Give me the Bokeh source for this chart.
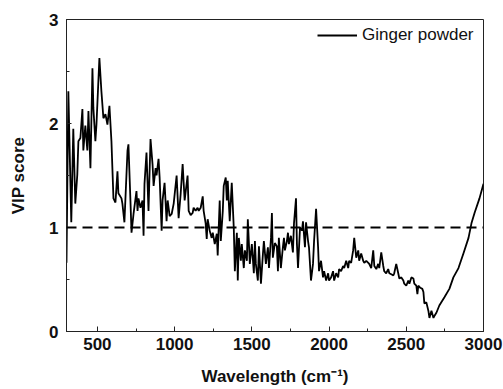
from bokeh.plotting import figure
from bokeh.models import SingleIntervalTicker, Span, Range1d, Legend, LegendItem
from bokeh.embed import file_html
from bokeh.resources import INLINE

wavenumber = [300, 312, 331, 344, 357, 370, 377, 390, 403, 409, 422, 435, 442, 455, 468, 474, 487, 494,
              513, 526, 539, 552, 565, 578, 591, 604, 617, 630, 636, 656, 662, 675, 695, 701, 714, 721,
              734, 753, 760, 766, 779, 792, 799, 805, 818, 831, 844, 857, 864, 877, 883, 896, 903, 916,
              922, 935, 948, 955, 968, 981, 994, 1013, 1026, 1039, 1052, 1065, 1084, 1091, 1104, 1117,
              1123, 1136, 1149, 1156, 1169, 1182, 1188, 1201, 1208, 1214, 1227, 1240, 1247, 1260, 1273,
              1279, 1292, 1299, 1312, 1318, 1331, 1338, 1344, 1357, 1370, 1383, 1390, 1403, 1409, 1416,
              1429, 1435, 1448, 1455, 1468, 1474, 1487, 1500, 1513, 1520, 1526, 1539, 1546, 1559, 1572,
              1578, 1591, 1604, 1611, 1624, 1630, 1636, 1649, 1662, 1669, 1675, 1688, 1701, 1708, 1714,
              1727, 1734, 1740, 1753, 1766, 1773, 1786, 1792, 1799, 1812, 1825, 1831, 1844, 1851, 1864,
              1870, 1883, 1896, 1903, 1916, 1929, 1935, 1948, 1961, 1968, 1981, 1994, 2000, 2013, 2026,
              2033, 2046, 2059, 2065, 2078, 2091, 2098, 2111, 2124, 2130, 2143, 2156, 2163, 2176, 2189,
              2195, 2208, 2221, 2228, 2241, 2254, 2260, 2273, 2286, 2293, 2306, 2318, 2325, 2338, 2351,
              2357, 2370, 2383, 2390, 2403, 2416, 2422, 2435, 2448, 2455, 2468, 2481, 2487, 2500, 2513,
              2520, 2533, 2546, 2552, 2565, 2572, 2578, 2591, 2604, 2611, 2617, 2630, 2643, 2650, 2663,
              2676, 2682, 2695, 2714, 2747, 2779, 2805, 2838, 2870, 2903, 2922, 2942, 2974, 3000]

vip_score = [0.66, 2.31, 1.05, 1.95, 1.23, 1.51, 1.83, 1.86, 2.14, 1.74, 1.98, 1.74, 2.12, 1.57, 2.53, 2.15, 1.83, 1.99,
             2.63, 2.31, 2.05, 2.09, 1.99, 2.17, 1.83, 1.28, 1.24, 1.54, 1.33, 1.28, 1.23, 1.05, 1.74, 1.80, 1.26, 0.95,
             1.13, 1.35, 1.16, 1.28, 1.19, 1.26, 0.92, 1.42, 1.72, 1.16, 1.85, 1.61, 1.40, 1.57, 1.50, 1.66, 1.48, 0.97,
             1.26, 1.43, 1.06, 1.26, 1.11, 1.13, 1.23, 1.50, 1.09, 1.32, 1.61, 1.26, 1.50, 1.16, 1.12, 1.14,
             1.19, 1.16, 1.19, 1.16, 1.19, 1.30, 1.16, 1.04, 0.89, 1.08, 0.97, 0.90, 0.95, 0.84, 0.94,
             0.73, 1.26, 0.87, 1.16, 1.40, 1.48, 1.26, 1.45, 1.06, 1.43, 1.00, 0.58, 0.95, 0.49, 0.90,
             0.68, 0.84, 0.61, 0.78, 0.68, 1.08, 0.65, 0.84, 0.56, 0.87, 0.65, 0.49, 0.82, 0.46, 0.75,
             0.87, 0.65, 0.81, 0.61, 0.90, 1.14, 0.71, 0.85, 0.82, 0.58, 0.90, 0.61, 0.81, 0.90, 0.78,
             0.87, 0.95, 0.84, 0.92, 0.76, 1.04, 1.28, 0.84, 0.61, 1.00, 0.97, 1.06, 0.81, 1.05, 0.87,
             0.81, 0.49, 0.65, 0.87, 1.18, 0.81, 0.58, 0.68, 0.52, 0.58, 0.49, 0.56, 0.49, 0.52, 0.58,
             0.49, 0.56, 0.52, 0.60, 0.58, 0.63, 0.61, 0.68, 0.61, 0.68, 0.66, 0.78, 0.90, 0.71, 0.78,
             0.68, 0.75, 0.68, 0.66, 0.68, 0.66, 0.65, 0.61, 0.78, 0.63, 0.60, 0.65, 0.61, 0.76, 0.63,
             0.58, 0.56, 0.60, 0.56, 0.55, 0.54, 0.56, 0.65, 0.56, 0.51, 0.52, 0.49, 0.46, 0.44, 0.49,
             0.46, 0.52, 0.51, 0.46, 0.44, 0.36, 0.44, 0.42, 0.41, 0.38, 0.27, 0.28, 0.20, 0.13, 0.20,
             0.13, 0.15, 0.18, 0.25, 0.33, 0.41, 0.52, 0.61, 0.75, 0.90, 1.04, 1.14, 1.28, 1.42]

threshold = 1.0
series_name = "Ginger powder"
x_title = "Wavelength (cm\u207b\u00b9)"
y_title = "VIP score"

FONT = "Liberation Sans"

p = figure(width=503, height=389, output_backend="svg", toolbar_location=None,
           x_range=Range1d(300, 3000), y_range=Range1d(0, 3),
           min_border_left=66, min_border_right=20, min_border_top=19, min_border_bottom=58)

p.background_fill_color = "white"
p.border_fill_color = "white"
p.outline_line_color = "#222222"
p.outline_line_width = 1
p.grid.visible = False

line = p.line(wavenumber, vip_score, line_color="black", line_width=1.8)
p.add_layout(Span(location=threshold, dimension="width", line_color="black",
                  line_width=2, line_dash="10 6"))

legend = Legend(items=[LegendItem(label=series_name, renderers=[line])],
                location=(251, 286), border_line_color=None, background_fill_alpha=0,
                label_text_font=FONT, label_text_font_size="17px", label_text_color="#111111",
                glyph_width=40, glyph_height=20, label_height=20,
                label_standoff=5, margin=0, padding=0, spacing=0)
p.add_layout(legend)

p.xaxis.ticker = SingleIntervalTicker(interval=500, num_minor_ticks=2)
p.yaxis.ticker = SingleIntervalTicker(interval=1, num_minor_ticks=2)

for ax in (p.xaxis, p.yaxis):
    ax.axis_line_color = "#222222"
    ax.major_tick_line_color = "#222222"
    ax.minor_tick_line_color = "#222222"
    ax.major_tick_in = 5
    ax.major_tick_out = 0
    ax.minor_tick_in = 3
    ax.minor_tick_out = 0
    ax.major_label_text_font = FONT
    ax.major_label_text_font_style = "bold"
    ax.major_label_text_font_size = "17px"
    ax.major_label_text_color = "#111111"
    ax.axis_label_text_font = FONT
    ax.axis_label_text_font_style = "bold"
    ax.axis_label_text_font_size = "17px"
    ax.axis_label_text_color = "#111111"

p.xaxis.axis_label = x_title
p.yaxis.axis_label = y_title
p.xaxis.major_label_standoff = 6
p.yaxis.major_label_standoff = 8
p.xaxis.axis_label_standoff = 14
p.yaxis.axis_label_standoff = 18

open("out.html", "w").write(file_html(p, INLINE))
